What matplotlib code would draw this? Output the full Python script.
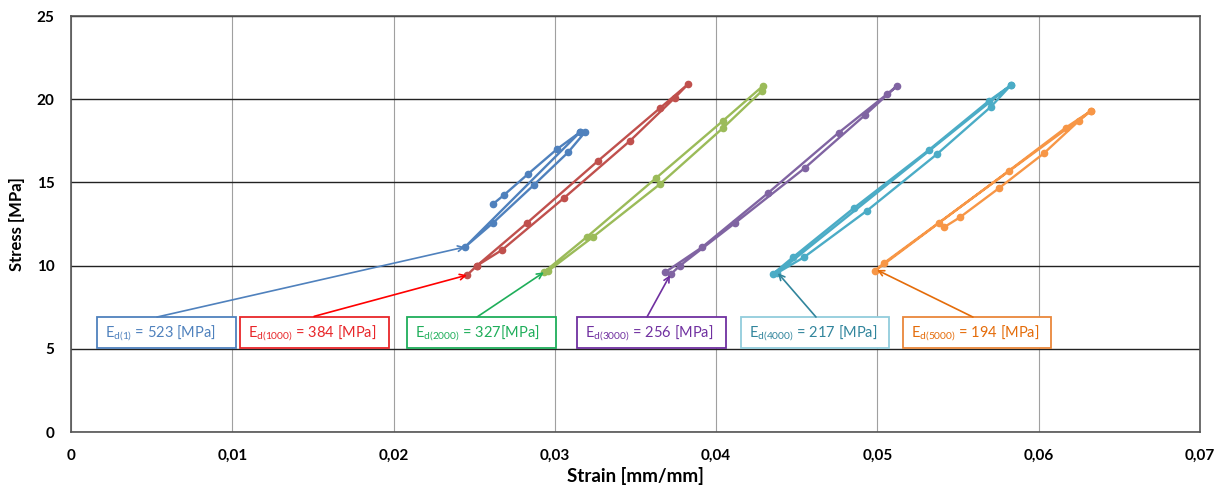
import matplotlib
matplotlib.use("Agg")
import matplotlib.pyplot as plt
from matplotlib.patches import Rectangle

plt.rcParams['font.family'] = ['Lato', 'DejaVu Sans']
plt.rcParams['mathtext.default'] = 'regular'

# ------------------------------
# Data (strain [mm/mm], stress [MPa])
# ------------------------------
x_d1 = [0.02616, 0.02684, 0.02833, 0.03013, 0.03156, 0.03187, 0.03081, 0.02870, 0.02616, 0.02443, 0.03156]
y_d1 = [13.70, 14.24, 15.50, 17.00, 18.02, 18.02, 16.80, 14.85, 12.56, 11.12, 18.02]

x_d1000 = [0.02455, 0.02517, 0.02827, 0.03267, 0.03652, 0.03825, 0.03745, 0.03466, 0.03056, 0.02672, 0.02517]
y_d1000 = [9.43, 10.00, 12.56, 16.29, 19.47, 20.90, 20.10, 17.50, 14.06, 10.94, 10.00]

x_d2000 = [0.02932, 0.03198, 0.03627, 0.04042, 0.04290, 0.04284, 0.04042, 0.03652, 0.03236, 0.02957]
y_d2000 = [9.60, 11.72, 15.26, 18.70, 20.80, 20.50, 18.27, 14.90, 11.72, 9.67]

x_d3000 = [0.03683, 0.03912, 0.04321, 0.04761, 0.05059, 0.05121, 0.04923, 0.04550, 0.04117, 0.03776, 0.03720]
y_d3000 = [9.60, 11.10, 14.36, 18.00, 20.30, 20.80, 19.05, 15.87, 12.56, 10.00, 9.50]

x_d4000 = [0.04352, 0.04476, 0.04854, 0.05319, 0.05691, 0.05828, 0.05704, 0.05369, 0.04935, 0.04544, 0.04377, 0.05828]
y_d4000 = [9.50, 10.50, 13.46, 16.95, 19.90, 20.85, 19.55, 16.70, 13.30, 10.50, 9.55, 20.85]

x_d5000 = [0.05412, 0.05511, 0.05753, 0.06032, 0.06249, 0.06324, 0.06169, 0.05815, 0.05381, 0.04984, 0.05040, 0.06324]
y_d5000 = [12.30, 12.90, 14.65, 16.75, 18.70, 19.30, 18.30, 15.70, 12.56, 9.68, 10.15, 19.30]

series_x = [x_d1, x_d1000, x_d2000, x_d3000, x_d4000, x_d5000]
series_y = [y_d1, y_d1000, y_d2000, y_d3000, y_d4000, y_d5000]
line_colors = ['#4F81BD', '#C0504D', '#9BBB59', '#8064A2', '#4BACC6', '#F79646']

# annotation labels
labels = [r'E$_{d(1)}$ = 523 [MPa]', r'E$_{d(1000)}$ = 384 [MPa]', r'E$_{d(2000)}$ = 327[MPa]',
          r'E$_{d(3000)}$ = 256 [MPa]', r'E$_{d(4000)}$ = 217 [MPa]', r'E$_{d(5000)}$ = 194 [MPa]']
box_left = [0.00161, 0.01048, 0.02083, 0.03137, 0.04154, 0.05158]
box_right = [0.01023, 0.01971, 0.03007, 0.04061, 0.05071, 0.06076]
arrow_from = [(0.00533, 6.91), (0.01507, 6.95), (0.02517, 6.91), (0.03571, 6.91), (0.04619, 6.91), (0.05592, 6.91)]
arrow_to = [(0.02443, 11.12), (0.02455, 9.43), (0.02932, 9.60), (0.03714, 9.43), (0.04383, 9.55), (0.04997, 9.74)]
box_colors = ['#4F81BD', '#E8262A', '#1FAE5A', '#7030A0', '#92CDDC', '#E9873A']
text_colors = ['#4F81BD', '#E8262A', '#1FAE5A', '#7030A0', '#31859C', '#E46C0A']
arrow_colors = ['#4F81BD', '#FF0000', '#1FAE5A', '#7030A0', '#31859C', '#E46C0A']

xticks = [0, 0.01, 0.02, 0.03, 0.04, 0.05, 0.06, 0.07]
xtick_labels = ['0', '0,01', '0,02', '0,03', '0,04', '0,05', '0,06', '0,07']
yticks = [0, 5, 10, 15, 20, 25]

# ------------------------------
# Plotting
# ------------------------------
fig = plt.figure(figsize=(12.29, 4.86), dpi=100)
ax = fig.add_axes([0.0578, 0.1111, 0.9186, 0.8559])

for xs, ys, c in zip(series_x, series_y, line_colors):
    ax.plot(xs, ys, color=c, lw=1.7, marker='o', ms=4.5, zorder=3)

y0, y1 = 5.05, 6.91
for lab, l, r, bc, tc in zip(labels, box_left, box_right, box_colors, text_colors):
    ax.add_patch(Rectangle((l, y0), r - l, y1 - y0, facecolor='white', edgecolor=bc, lw=1.3, zorder=4))
    ax.text(l + 0.0005, (y0 + y1) / 2 - 0.05, lab, color=tc, fontsize=10.5, va='center', ha='left', zorder=5)

for (sx, sy), (ex, ey), c in zip(arrow_from, arrow_to, arrow_colors):
    ax.annotate('', xy=(ex, ey), xytext=(sx, sy),
                arrowprops=dict(arrowstyle='->', color=c, lw=1.2, shrinkA=0, shrinkB=0), zorder=4)

ax.set_xlim(0, 0.07)
ax.set_ylim(0, 25)
ax.set_xticks(xticks)
ax.set_xticklabels(xtick_labels)
ax.set_yticks(yticks)
ax.tick_params(length=0, pad=12, labelsize=11)
for t in ax.get_xticklabels() + ax.get_yticklabels():
    t.set_fontweight('bold')

ax.yaxis.grid(True, color='#222222', lw=1.0)
ax.xaxis.grid(True, color='#A0A0A0', lw=0.8)
ax.set_axisbelow(True)
for s in ax.spines.values():
    s.set_color('#555555')
    s.set_linewidth(1.2)

ax.set_xlabel('Strain [mm/mm]', fontsize=13.5, fontweight='bold', labelpad=3)
ax.set_ylabel('Stress [MPa]', fontsize=12, fontweight='bold', labelpad=8)

fig.savefig('out.png', dpi=100)
